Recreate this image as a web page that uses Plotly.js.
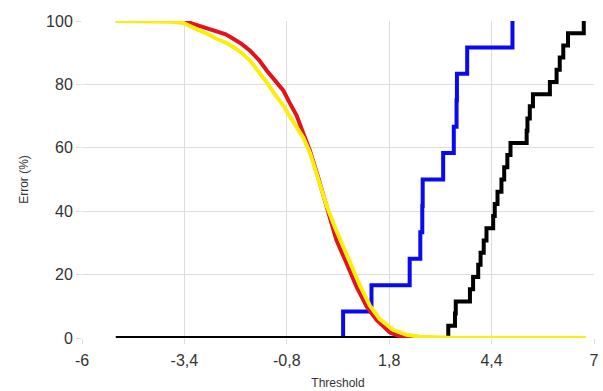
<!DOCTYPE html>
<html>
<head>
<meta charset="utf-8">
<script src="https://cdn.plot.ly/plotly-3.0.1.min.js"></script>
<style>html,body{margin:0;padding:0;background:#fff;}#chart{width:603px;height:391px;}</style>
</head>
<body>
<div id="chart"></div>
<script>
// Tick labels
const xTickVals = [-6, -3.4, -0.8, 1.8, 4.4, 7];
const xTickText = ["-6", "-3,4", "-0,8", "1,8", "4,4", "7"];
const yTickVals = [0, 20, 40, 60, 80, 100];

// Red series
const redX = [-5.14, -3.39, -3.2, -3.0, -2.8, -2.58, -2.35, -2.16, -1.95, -1.74, -1.5, -1.31, -1.1, -0.89, -0.72, -0.55, -0.38, -0.21, 0.0, 0.2, 0.3, 0.46, 0.72, 0.97, 1.23, 1.48, 1.82, 2.07, 2.4, 4.0];
const redY = [100, 100, 99.2, 98.4, 97.8, 97.0, 95.8, 94.4, 92.8, 90.7, 87.6, 84.4, 81.0, 78.1, 74.0, 70.2, 64.5, 59.0, 50.5, 41.5, 37.2, 30.9, 23.5, 16.2, 9.9, 5.7, 1.7, 0.5, 0, 0];

// Yellow series
const yellowX = [-5.14, -4.5, -3.8, -3.43, -3.2, -3.0, -2.8, -2.58, -2.35, -2.16, -1.95, -1.74, -1.5, -1.31, -1.1, -0.89, -0.72, -0.55, -0.38, -0.21, 0.0, 0.21, 0.42, 0.6, 0.8, 1.06, 1.31, 1.56, 1.9, 2.24, 2.58, 3.08, 3.5, 6.8];
const yellowY = [100, 100, 99.8, 99.4, 98.2, 97.0, 95.8, 94.4, 93.2, 91.8, 90.0, 87.6, 84.0, 80.7, 76.8, 73.4, 69.9, 66.6, 63.2, 58.4, 50.2, 41.8, 35.0, 29.8, 23.8, 16.5, 10.2, 6.0, 2.6, 1.0, 0.4, 0.15, 0, 0];

// Blue series (step)
const blueX = [-5.14, 0.63, 1.35, 2.32, 2.59, 2.64, 2.65, 3.17, 3.44, 3.51, 3.52, 3.78, 4.93];
const blueY = [0, 8.33, 16.67, 25.0, 33.33, 41.67, 50.0, 58.33, 66.67, 75.0, 83.33, 91.67, 100];

// Black series (step)
const blackX = [-5.14, 3.30, 3.47, 3.49, 3.85, 3.93, 4.06, 4.12, 4.20, 4.27, 4.44, 4.48, 4.55, 4.65, 4.72, 4.80, 4.88, 5.29, 5.31, 5.37, 5.45, 5.88, 6.05, 6.13, 6.22, 6.34, 6.74];
const blackY = [0, 3.85, 7.69, 11.54, 15.38, 19.23, 23.08, 26.92, 30.77, 34.62, 38.46, 42.31, 46.15, 50.0, 53.85, 57.69, 61.54, 65.38, 69.23, 73.08, 76.92, 80.77, 84.62, 88.46, 92.31, 96.15, 100];

const traces = [
  {x: blueX, y: blueY, mode: 'lines', line: {color: '#0a0aee', width: 4, shape: 'hv'}},
  {x: blackX, y: blackY, mode: 'lines', line: {color: '#000000', width: 4, shape: 'hv'}},
  {x: redX, y: redY, mode: 'lines', line: {color: '#e3121b', width: 4}},
  {x: yellowX, y: yellowY, mode: 'lines', line: {color: '#f9ee10', width: 4}}
];

const layout = {
  width: 603, height: 391,
  margin: {l: 82, r: 9, t: 21, b: 53},
  paper_bgcolor: '#ffffff', plot_bgcolor: '#ffffff',
  showlegend: false,
  font: {family: 'Liberation Sans, Arial, sans-serif', color: '#333333'},
  xaxis: {
    range: [-6, 7], tickvals: xTickVals, ticktext: xTickText,
    showgrid: true, gridcolor: '#dddddd', gridwidth: 1, zeroline: false,
    ticks: 'outside', ticklen: 5, tickcolor: '#dddddd', ticklabelstandoff: 3,
    showline: false, tickfont: {size: 16, color: '#333333'},
    title: {text: 'Threshold', font: {size: 12, color: '#333333'}, standoff: 10}
  },
  yaxis: {
    range: [0, 100], tickvals: yTickVals,
    showgrid: true, gridcolor: '#dddddd', gridwidth: 1, zeroline: false,
    ticks: 'outside', ticklen: 5, tickcolor: '#dddddd',
    showline: false, tickfont: {size: 16, color: '#333333'},
    title: {text: 'Error (%)', font: {size: 12, color: '#333333'}, standoff: 14}
  }
};

Plotly.newPlot('chart', traces, layout, {displayModeBar: false, staticPlot: true});
</script>
</body>
</html>
